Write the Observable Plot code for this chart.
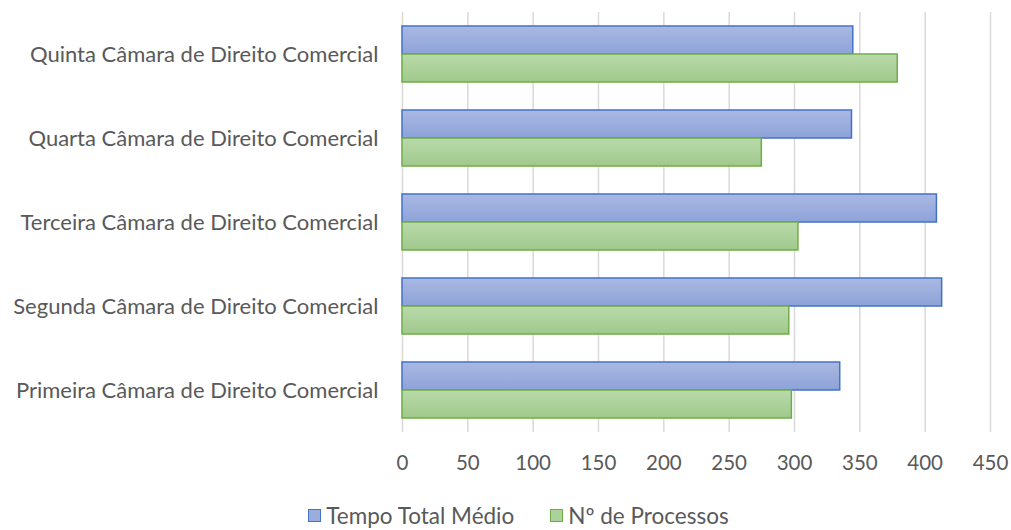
<!DOCTYPE html>
<html><head><meta charset="utf-8">
<script src="https://cdn.jsdelivr.net/npm/d3@7"></script>
<script src="https://cdn.jsdelivr.net/npm/@observablehq/plot@0.6"></script>
<style>
body{margin:0;background:#fff;font-family:Lato, sans-serif;}
#legend{display:flex;justify-content:center;align-items:center;gap:36px;font-size:22.5px;color:#595959;padding-left:26px;height:34px;margin-top:8px;}
#legend .item{display:flex;align-items:center;gap:5px;}
#legend .sw{width:13px;height:13px;box-sizing:border-box;border:1.5px solid;}
</style></head><body><div id="chart"></div><div id="legend"></div><script>
const categories = [
  "Quinta Câmara de Direito Comercial",
  "Quarta Câmara de Direito Comercial",
  "Terceira Câmara de Direito Comercial",
  "Segunda Câmara de Direito Comercial",
  "Primeira Câmara de Direito Comercial"
];
const tempoTotalMedio = [345, 344, 409, 413, 335];
const numProcessos = [379, 275, 303, 296, 298];
const seriesNames = ["Tempo Total Médio", "Nº de Processos"];
const xTicks = [0, 50, 100, 150, 200, 250, 300, 350, 400, 450];

const tempoRows = categories.map((c, i) => ({category: c, series: seriesNames[0], value: tempoTotalMedio[i]}));
const procRows = categories.map((c, i) => ({category: c, series: seriesNames[1], value: numProcessos[i]}));

const chart = Plot.plot({
  width: 1011, height: 490,
  marginLeft: 402, marginRight: 21, marginTop: 11, marginBottom: 58,
  style: {fontFamily: "Lato, sans-serif", fontSize: "20px", color: "#595959", background: "white", overflow: "visible"},
  x: {domain: [0, 450], axis: null},
  y: {domain: seriesNames, paddingInner: 0, paddingOuter: 0.5, axis: null},
  fy: {domain: categories, padding: 0, axis: null},
  marks: [
    Plot.gridX(xTicks, {stroke: "#d9d9d9", strokeOpacity: 1, strokeWidth: 1.5}),
    Plot.barX(tempoRows, {x: "value", y: "series", fy: "category", fill: "url(#gBlue)", stroke: "#4472c4", strokeWidth: 1.5, insetTop: 0, insetBottom: 0}),
    Plot.barX(procRows, {x: "value", y: "series", fy: "category", fill: "url(#gGreen)", stroke: "#70ad47", strokeWidth: 1.5, insetTop: 0, insetBottom: 0}),
    Plot.axisX({ticks: xTicks, tickSize: 0, tickPadding: 23, label: null, fontSize: 20.5}),
    Plot.axisFy({anchor: "left", tickSize: 0, tickPadding: 24, label: null, fontSize: 22})
  ]
});

const ns = "http://www.w3.org/2000/svg";
const defs = document.createElementNS(ns, "defs");
function addGrad(id, c1, c2) {
  const lg = document.createElementNS(ns, "linearGradient");
  lg.setAttribute("id", id);
  lg.setAttribute("x1", "0"); lg.setAttribute("y1", "0");
  lg.setAttribute("x2", "0"); lg.setAttribute("y2", "1");
  [[0, c1], [1, c2]].forEach(([o, c]) => {
    const s = document.createElementNS(ns, "stop");
    s.setAttribute("offset", o);
    s.setAttribute("stop-color", c);
    lg.appendChild(s);
  });
  defs.appendChild(lg);
}
addGrad("gBlue", "#aab9e3", "#8da2d8");
addGrad("gGreen", "#b9daab", "#a0c98c");
chart.insertBefore(defs, chart.firstChild);
document.getElementById("chart").appendChild(chart);

const legend = document.getElementById("legend");
[[seriesNames[0], "#9aaddd", "#4472c4"], [seriesNames[1], "#acd29b", "#70ad47"]].forEach(([name, fill, stroke]) => {
  const item = document.createElement("div");
  item.className = "item";
  const sw = document.createElement("div");
  sw.className = "sw";
  sw.style.background = fill;
  sw.style.borderColor = stroke;
  const t = document.createElement("span");
  t.textContent = name;
  item.appendChild(sw); item.appendChild(t);
  legend.appendChild(item);
});
</script></body></html>
